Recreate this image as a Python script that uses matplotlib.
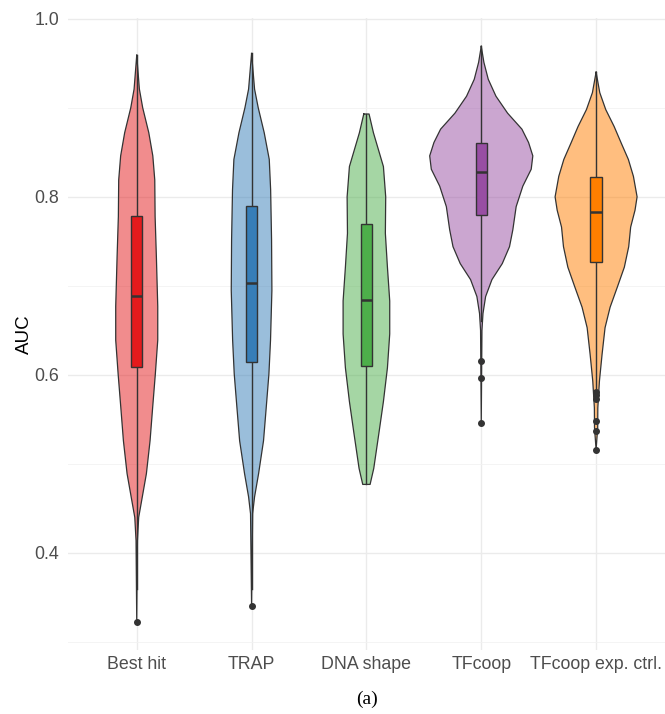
import numpy as np
import matplotlib.pyplot as plt

# categories and colours (Set1)
methods = ["Best hit", "TRAP", "DNA shape", "TFcoop", "TFcoop exp. ctrl."]
colors = ["#E41A1C", "#377EB8", "#4DAF4A", "#984EA3", "#FF7F00"]

# violin outlines: AUC level and half width (category units)
best_y = [0.959, 0.921, 0.900, 0.872, 0.846, 0.819, 0.778, 0.733, 0.677, 0.639,
          0.601, 0.564, 0.526, 0.489, 0.459, 0.440, 0.414, 0.323]
best_w = [0.0, 0.023, 0.052, 0.105, 0.140, 0.157, 0.160, 0.171, 0.183, 0.183,
          0.162, 0.139, 0.116, 0.084, 0.043, 0.017, 0.006, 0.0]

trap_y = [0.961, 0.921, 0.900, 0.872, 0.842, 0.808, 0.752, 0.695, 0.639, 0.601,
          0.564, 0.526, 0.489, 0.463, 0.444, 0.341]
trap_w = [0.0, 0.026, 0.058, 0.110, 0.154, 0.166, 0.174, 0.177, 0.165, 0.151,
          0.128, 0.104, 0.061, 0.026, 0.009, 0.0]

shape_y = [0.893, 0.872, 0.834, 0.800, 0.759, 0.721, 0.683, 0.646, 0.608, 0.570,
           0.533, 0.495, 0.477]
shape_w = [0.023, 0.061, 0.148, 0.168, 0.165, 0.183, 0.203, 0.203, 0.183, 0.148,
           0.107, 0.064, 0.032]

coop_y = [0.969, 0.951, 0.932, 0.913, 0.894, 0.876, 0.861, 0.846, 0.831, 0.812,
          0.789, 0.763, 0.744, 0.725, 0.707, 0.688, 0.669, 0.650, 0.546]
coop_w = [0.0, 0.023, 0.061, 0.128, 0.229, 0.354, 0.412, 0.449, 0.435, 0.362,
          0.304, 0.275, 0.246, 0.183, 0.093, 0.038, 0.015, 0.006, 0.0]

ctrl_y = [0.940, 0.917, 0.898, 0.879, 0.860, 0.842, 0.823, 0.800, 0.785, 0.766,
          0.744, 0.721, 0.699, 0.676, 0.653, 0.623, 0.593, 0.563, 0.541, 0.516]
ctrl_w = [0.0, 0.032, 0.084, 0.157, 0.220, 0.281, 0.325, 0.357, 0.339, 0.301,
          0.284, 0.246, 0.186, 0.122, 0.078, 0.052, 0.029, 0.015, 0.014, 0.0]

violin_y = [best_y, trap_y, shape_y, coop_y, ctrl_y]
violin_w = [best_w, trap_w, shape_w, coop_w, ctrl_w]

# boxplot summaries
q1 = [0.609, 0.614, 0.610, 0.780, 0.727]
med = [0.689, 0.703, 0.684, 0.828, 0.783]
q3 = [0.778, 0.790, 0.770, 0.860, 0.822]
whis_lo = [0.360, 0.360, 0.477, 0.660, 0.585]
whis_hi = [0.959, 0.961, 0.893, 0.969, 0.940]
fliers = [[0.323], [0.341], [], [0.616, 0.597, 0.546],
          [0.581, 0.577, 0.573, 0.548, 0.537, 0.516]]

plt.rcParams['font.family'] = ['Liberation Sans', 'DejaVu Sans']
fig = plt.figure(figsize=(6.65, 7.14), dpi=100)
ax = fig.add_axes([0.102, 0.0896, 0.898, 0.8854])

pos = np.arange(1, len(methods) + 1)
edge = "#333333"

for i in range(len(methods)):
    y = np.array(violin_y[i])
    w = np.array(violin_w[i])
    ax.fill_betweenx(y, pos[i] - w, pos[i] + w, facecolor=colors[i], alpha=0.5,
                     edgecolor="none", zorder=2)
    xs = np.concatenate([pos[i] - w, (pos[i] + w)[::-1], [pos[i] - w[0]]])
    ys = np.concatenate([y, y[::-1], [y[0]]])
    ax.plot(xs, ys, color=edge, lw=0.9, zorder=3, solid_joinstyle="round")

stats = []
for i in range(len(methods)):
    stats.append(dict(med=med[i], q1=q1[i], q3=q3[i], whislo=whis_lo[i],
                      whishi=whis_hi[i], fliers=fliers[i]))
bp = ax.bxp(stats, positions=pos, widths=0.1, patch_artist=True, showcaps=False,
            boxprops=dict(edgecolor=edge, linewidth=1.0),
            medianprops=dict(color=edge, linewidth=1.8),
            whiskerprops=dict(color=edge, linewidth=1.0),
            flierprops=dict(marker="o", markersize=4, markerfacecolor=edge,
                            markeredgecolor=edge))
for patch, c in zip(bp["boxes"], colors):
    patch.set_facecolor(c)
    patch.set_zorder(4)
for k in ["medians", "whiskers", "fliers"]:
    for ln in bp[k]:
        ln.set_zorder(5 if k != "whiskers" else 3.5)

ax.set_xlim(0.4, 5.6)
ax.set_ylim(0.291, 1.001)
ax.set_xticks(pos)
ax.set_xticklabels(methods)
ax.set_yticks([0.4, 0.6, 0.8, 1.0])
ax.set_yticks([0.3, 0.5, 0.7, 0.9], minor=True)
ax.yaxis.set_major_formatter(plt.FormatStrFormatter("%.1f"))
ax.grid(True, which="major", color="#EBEBEB", lw=1.0, zorder=0)
ax.grid(True, which="minor", axis="y", color="#F2F2F2", lw=0.6, zorder=0)
ax.set_axisbelow(True)
for s in ax.spines.values():
    s.set_visible(False)
ax.tick_params(which="both", length=0, labelsize=12.8, labelcolor="#4D4D4D")
ax.tick_params(axis="x", pad=4)
ax.tick_params(axis="y", pad=6)
ax.set_ylabel("AUC", fontsize=13.5, labelpad=1)

fig.text(0.552, 0.020, "(a)", ha="center", va="center", fontsize=14,
         family=["Liberation Serif", "DejaVu Serif"])

fig.savefig("out.png", dpi=100)
